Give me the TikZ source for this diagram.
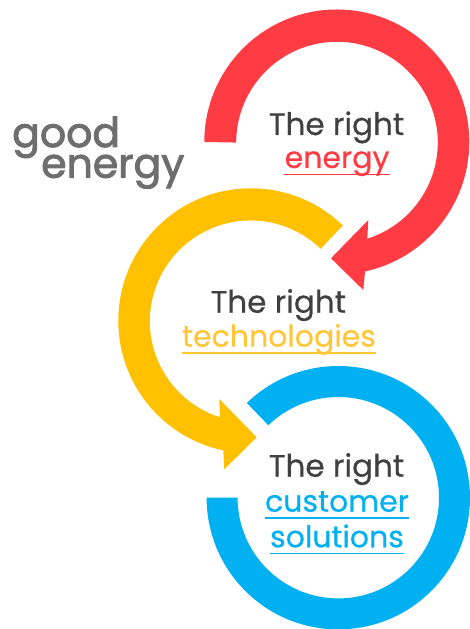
\documentclass[tikz,border=0pt]{standalone}
\usepackage{fontspec}
\setmainfont[FakeBold=0.5]{Poppins}
\newfontfamily\logofont[FakeBold=2.2]{Poppins}
\definecolor{ringred}{HTML}{FF3B44}
\definecolor{ringyellow}{HTML}{FFC000}
\definecolor{ringblue}{HTML}{00B0F0}
\definecolor{txtyellow}{HTML}{FFC738}
\definecolor{txtdark}{HTML}{404040}
\definecolor{logogray}{HTML}{6E6E6E}
\tikzset{
    plainlbl/.style={anchor=base,inner sep=0pt,text=txtdark,font=\fontsize{31}{31}\selectfont},
    keylbl/.style={anchor=base,inner sep=0pt,text depth=6.2pt,font=\fontsize{30}{30}\selectfont},
    logolbl/.style={anchor=base west,inner sep=0pt,text=logogray,font=\logofont\fontsize{41}{41}\selectfont},
    underl/.style={line width=1.3pt},
}
\begin{document}
\begin{tikzpicture}[x=1pt,y=1pt]
    \useasboundingbox (0,0) rectangle (470,629);
    \coordinate (redc) at (336.8,487);
    \coordinate (yellowc) at (250.8,308.2);
    \coordinate (bluec) at (338.3,131.3);
    % rings
    \fill[ringred] (redc) ++(180:132.5) arc (180:-77.7:132.5) -- (363.3,339) -- (331,370.7) -- (368.3,409) -- (367.3,390.3) arc (-72.5:180:100.8) -- cycle;
    \fill[ringyellow] (yellowc) ++(46:132.5) arc (46:258:132.5) -- (224.3,159.7) -- (256.7,191.7) -- (219.3,230) -- (220,211.7) arc (252.3:46:100.8) -- cycle;
    \fill[ringblue] (bluec) ++(134:131.7) arc (134:-180:131.7) -- ++(31,0) arc (-180:134:100.7) -- cycle;
    % logo
    \node[logolbl] (good) at (12,482) {good};
    \node[logolbl] (energy) at (41,451.3) {energy};
    % labels
    \node[plainlbl] (rightr) at (336.5,494) {The right};
    \node[keylbl,text=ringred] (keyr) at (337,461) {energy};
    \draw[underl,ringred] (keyr.south west) -- (keyr.south east);
    \node[plainlbl] (righty) at (278.3,316.3) {The right};
    \node[keylbl,text=txtyellow] (keyy) at (279,282.3) {technologies};
    \draw[underl,txtyellow] (keyy.south west) -- (keyy.south east);
    \node[plainlbl] (rightb) at (336.5,152.3) {The right};
    \node[keylbl,text=ringblue] (keyb) at (337,117.3) {customer};
    \draw[underl,ringblue] (keyb.south west) -- (keyb.south east);
    \node[keylbl,text=ringblue] (keyc) at (337,81.7) {solutions};
    \draw[underl,ringblue] (keyc.south west) -- (keyc.south east);
\end{tikzpicture}
\end{document}
